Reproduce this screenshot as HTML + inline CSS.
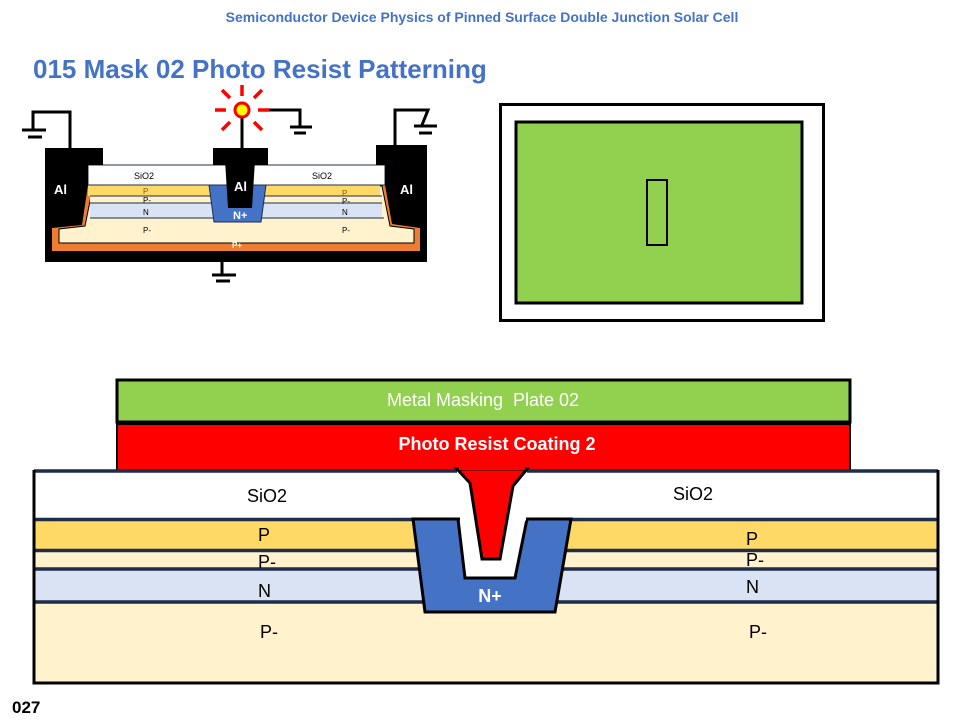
<!DOCTYPE html>
<html><head><style>
html,body{margin:0;padding:0;background:#fff;}
svg{display:block;font-family:"Liberation Sans",sans-serif;}
</style></head><body>
<svg width="960" height="720" viewBox="0 0 960 720">
<text x="482" y="22" text-anchor="middle" font-size="14" font-weight="bold" fill="#4472c4">Semiconductor Device Physics of Pinned Surface Double Junction Solar Cell</text>
<text x="33" y="78" font-size="26" font-weight="bold" fill="#4472c4">015 Mask 02 Photo Resist Patterning</text>
<text x="12" y="713" font-size="17" font-weight="bold" fill="#000">027</text>

<!-- top-left device -->
<g>
<rect x="45" y="250" width="382" height="12" fill="#000"/>
<polygon points="52,251 52,225 78,221 85,183 390,183 397,221 420,225 420,251" fill="#ed7d31"/>
<polygon points="93,186 85,226 59,229 59,243 414,243 414,229 390,226 382,186" fill="#fff2cc" stroke="#000" stroke-width="1"/>
<rect x="88" y="185" width="125" height="11" fill="#ffd966"/>
<rect x="262" y="185" width="118" height="11" fill="#ffd966"/>
<rect x="90" y="196" width="123" height="7" fill="#fff2cc"/>
<rect x="262" y="196" width="118" height="7" fill="#fff2cc"/>
<rect x="90" y="203" width="123" height="15" fill="#dae3f3"/>
<rect x="262" y="203" width="120" height="15" fill="#dae3f3"/>
<g stroke="#1f2d4a" stroke-width="1"><line x1="90" y1="196" x2="382" y2="196"/><line x1="90" y1="203" x2="382" y2="203"/><line x1="90" y1="218" x2="384" y2="218"/></g>
<polygon points="209,185 266,185 261,222 214,222" fill="#4472c4" stroke="#1f2d4a" stroke-width="1"/>
<rect x="88" y="165" width="297" height="20" fill="#fff" stroke="#1f2d4a" stroke-width="1"/>
<polygon points="45,148 103,148 103,165 88,165 88,185 82,225 52,228 52,262 45,262" fill="#000"/>
<polygon points="427,145 376,145 376,165 385,165 385,185 392,224 420,228 420,262 427,262" fill="#000"/>
<rect x="213" y="148" width="55" height="17" fill="#000"/>
<polygon points="225,160 255,160 252,208 228,208" fill="#000"/>
<text x="134" y="179" font-size="9" fill="#000">SiO2</text>
<text x="312" y="179" font-size="9" fill="#000">SiO2</text>
<g font-size="8" fill="#7f6000"><text x="143" y="194">P</text><text x="342" y="196">P</text></g>
<g font-size="8" fill="#000"><text x="143" y="203">P-</text><text x="342" y="204">P-</text><text x="143" y="215">N</text><text x="342" y="215">N</text><text x="143" y="233">P-</text><text x="342" y="233">P-</text></g>
<text x="233" y="219" font-size="11" font-weight="bold" fill="#fff">N+</text>
<text x="232" y="248" font-size="8" font-weight="bold" fill="#fff">P+</text>
<g font-size="13" font-weight="bold" fill="#fff"><text x="54" y="194">Al</text><text x="234" y="191">Al</text><text x="400" y="194">Al</text></g>
<!-- wires -->
<g stroke="#000" stroke-width="3" fill="none">
<polyline points="70,150 70,112 33,112 33,130"/>
<line x1="22" y1="130" x2="46" y2="130"/>
<polyline points="395,147 395,110 428,110 422,125"/>
<line x1="414" y1="126" x2="437" y2="126"/>
<polyline points="242,148 242,118"/>
<polyline points="262,110 300,110 300,126"/>
<line x1="290" y1="127" x2="312" y2="127"/>
<line x1="222" y1="262" x2="222" y2="275"/>
<line x1="212" y1="275" x2="236" y2="275"/>
</g>
<g stroke="#000" stroke-width="3"><line x1="28" y1="137" x2="42" y2="137"/><line x1="419" y1="133" x2="432" y2="133"/><line x1="294" y1="133" x2="306" y2="133"/><line x1="216" y1="281" x2="230" y2="281"/></g>
<g stroke="#f00" stroke-width="3.5">
<line x1="242" y1="85" x2="242" y2="96"/><line x1="215" y1="110" x2="226" y2="110"/><line x1="258" y1="110" x2="269" y2="110"/>
<line x1="222" y1="90" x2="230" y2="98"/><line x1="262" y1="90" x2="254" y2="98"/><line x1="222" y1="130" x2="230" y2="122"/><line x1="262" y1="130" x2="254" y2="122"/>
</g>
<circle cx="242" cy="110" r="7" fill="#ff0" stroke="#f00" stroke-width="3"/>
</g>

<!-- mask box -->
<rect x="500.5" y="104.5" width="323" height="216" fill="#fff" stroke="#000" stroke-width="3"/>
<rect x="516" y="122" width="286" height="181" fill="#92d050" stroke="#000" stroke-width="3"/>
<rect x="647" y="180" width="20" height="65" fill="none" stroke="#000" stroke-width="2"/>

<!-- bottom diagram -->
<rect x="117" y="380" width="733" height="42" fill="#92d050" stroke="#000" stroke-width="3"/>
<text x="483" y="406" text-anchor="middle" font-size="18" fill="#fff" xml:space="preserve">Metal Masking  Plate 02</text>
<rect x="117" y="424" width="733" height="47" fill="#f00" stroke="#000" stroke-width="2"/>
<text x="497" y="450" text-anchor="middle" font-size="18" font-weight="bold" fill="#fff">Photo Resist Coating 2</text>

<rect x="34" y="470" width="904" height="50" fill="#fff"/>
<rect x="34" y="520" width="904" height="31" fill="#ffd966"/>
<rect x="34" y="551" width="904" height="18" fill="#fff2cc"/>
<rect x="34" y="569" width="904" height="33" fill="#dae3f3"/>
<rect x="34" y="602" width="904" height="82" fill="#fff2cc"/>
<g stroke="#1f2d4a" stroke-width="3.5">
<line x1="34" y1="471" x2="457" y2="471"/>
<line x1="527" y1="471" x2="938" y2="471"/>
<line x1="34" y1="519.5" x2="938" y2="519.5"/>
<line x1="34" y1="550.5" x2="938" y2="550.5"/>
<line x1="34" y1="569" x2="938" y2="569"/>
<line x1="34" y1="602" x2="938" y2="602"/>
</g>
<polyline points="34,470 34,683 938,683 938,470" fill="none" stroke="#000" stroke-width="3"/>
<polygon points="413,519 571,519 555,612 425,612" fill="#4472c4" stroke="#000" stroke-width="3"/>
<polygon points="458,519 527,519 515,578 465,578" fill="#fff" stroke="#000" stroke-width="3"/>
<rect x="460" y="472" width="66" height="48.5" fill="#fff"/>
<polygon points="457,469 470,483 482,559 500,559 513,486 527,469" fill="#f00" stroke="#000" stroke-width="3"/>
<rect x="459" y="465" width="66" height="5" fill="#f00"/>
<text x="490" y="602" text-anchor="middle" font-size="18" font-weight="bold" fill="#fff">N+</text>
<g font-size="18" fill="#000">
<text x="247" y="502">SiO2</text><text x="673" y="500">SiO2</text>
<text x="258" y="541">P</text><text x="746" y="545">P</text>
<text x="258" y="568">P-</text><text x="746" y="566">P-</text>
<text x="258" y="597">N</text><text x="746" y="593">N</text>
<text x="260" y="638">P-</text><text x="749" y="638">P-</text>
</g>
</svg>
</body></html>
